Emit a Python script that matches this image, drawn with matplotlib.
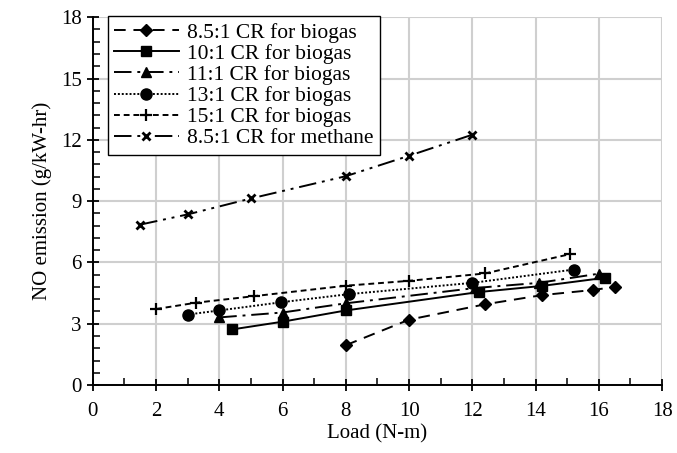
import matplotlib
matplotlib.use("Agg")
import matplotlib.pyplot as plt
from matplotlib.ticker import MultipleLocator

plt.rcParams['font.family'] = ['Liberation Serif', 'DejaVu Serif']

# data
load_85 = [8.0, 10.0, 12.4, 14.2, 15.8, 16.5]
no_85 = [1.95, 3.2, 3.95, 4.4, 4.65, 4.8]

load_10 = [4.4, 6.0, 8.0, 12.2, 14.2, 16.2]
no_10 = [2.72, 3.1, 3.65, 4.55, 4.85, 5.25]

load_11 = [4.0, 6.0, 8.0, 12.1, 14.1, 16.0]
no_11 = [3.31, 3.55, 4.0, 4.75, 5.0, 5.45]

load_13 = [3.0, 4.0, 5.95, 8.1, 12.0, 15.2]
no_13 = [3.45, 3.65, 4.05, 4.45, 5.0, 5.65]

load_15 = [2.0, 3.27, 5.1, 8.0, 10.0, 12.4, 15.1]
no_15 = [3.72, 4.03, 4.35, 4.86, 5.1, 5.46, 6.41]

load_m = [1.5, 3.0, 5.0, 8.0, 10.0, 12.0]
no_m = [7.85, 8.35, 9.13, 10.22, 11.22, 12.25]

labels = ['8.5:1 CR for biogas', '10:1 CR for biogas', '11:1 CR for biogas',
          '13:1 CR for biogas', '15:1 CR for biogas', '8.5:1 CR for methane']

fig = plt.figure(figsize=(6.77, 4.53), dpi=100)
ax = fig.add_axes([0.137, 0.150, 0.841, 0.812])

k = dict(color='black', linewidth=1.4)
ax.plot(load_85, no_85, linestyle=(0, (6, 4)), marker='D', markersize=6, label=labels[0], **k)
ax.plot(load_10, no_10, linestyle='-', marker='s', markersize=7.5, label=labels[1], **k)
ax.plot(load_11, no_11, linestyle=(0, (9, 3, 1.5, 3)), marker='^', markersize=7.5, label=labels[2], **k)
ax.plot(load_13, no_13, linestyle=(0, (1, 1)), marker='o', markersize=8, label=labels[3], **k)
ax.plot(load_15, no_15, linestyle=(0, (3, 2)), marker='+', markersize=9, markeredgewidth=1.6, label=labels[4], **k)
ax.plot(load_m, no_m, linestyle=(0, (9, 3, 1.5, 3, 1.5, 3)), marker='x', markersize=6,
        markeredgewidth=2, label=labels[5], **k)

ax.set_xlim(0, 18)
ax.set_ylim(0, 18)
ax.xaxis.set_major_locator(MultipleLocator(2))
ax.xaxis.set_minor_locator(MultipleLocator(1))
ax.yaxis.set_major_locator(MultipleLocator(3))
ax.yaxis.set_minor_locator(MultipleLocator(0.6))
ax.tick_params(which='major', direction='inout', length=9, width=1.3, labelsize=15)
ax.tick_params(which='minor', direction='in', length=5, width=1.1)
ax.tick_params(axis='x', pad=8)

ax.grid(True, which='major', color='#cfcfcf', linewidth=1.5)
ax.set_axisbelow(True)
for s in ['top', 'right']:
    ax.spines[s].set_visible(False)
for s in ['left', 'bottom']:
    ax.spines[s].set_linewidth(1.4)

ax.set_xlabel('Load (N-m)', fontsize=15, labelpad=2)
ax.set_ylabel('NO emission (g/kW-hr)', fontsize=15, labelpad=6)

leg = ax.legend(loc='upper left', bbox_to_anchor=(0.026, 1.003), fontsize=15.5, frameon=True,
                fancybox=False, edgecolor='black', framealpha=1, handlelength=3.0,
                labelspacing=0.05, borderpad=0.3, handletextpad=0.4, borderaxespad=0)
leg.get_frame().set_linewidth(1.0)

fig.savefig('out.png', dpi=100)
